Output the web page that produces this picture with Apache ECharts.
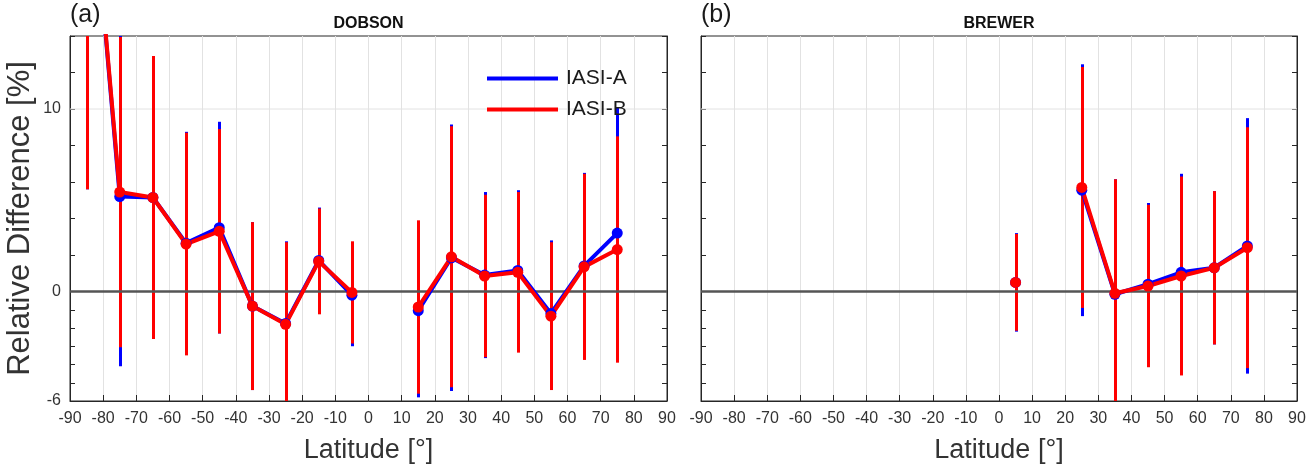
<!DOCTYPE html>
<html><head><meta charset="utf-8">
<script src="https://cdn.jsdelivr.net/npm/echarts@6/dist/echarts.min.js"></script>
<style>html,body{margin:0;padding:0;background:#fff}#c{width:1315px;height:469px}</style>
</head><body><div id="c"></div>
<script>
// ---- data ----
const lat = [-85,-75,-65,-55,-45,-35,-25,-15,-5,5,15,25,35,45,55,65,75];
const dobsonA    = [26, 5.2, 5.15, 2.65, 3.5, -0.8, -1.75, 1.7, -0.2, null, -1.05, 1.85, 0.9, 1.15, -1.2, 1.4, 3.2];
const dobsonErrA = [20.4, 9.3, 7.75, 6.1, 5.8, 4.6, 4.5, 2.9, 2.8, null, 4.75, 7.3, 4.55, 4.4, 4.0, 5.1, 6.9];
const dobsonB    = [26, 5.45, 5.15, 2.6, 3.3, -0.8, -1.8, 1.65, -0.05, null, -0.85, 1.9, 0.85, 1.05, -1.35, 1.35, 2.3];
const dobsonErrB = [20.4, 8.5, 7.75, 6.1, 5.6, 4.6, 4.5, 2.9, 2.8, null, 4.75, 7.15, 4.45, 4.4, 4.05, 5.1, 6.2];
const brewerA    = [null,null,null,null,null,null,null,null,null, 0.5, null, 5.55, -0.15, 0.4, 1.05, 1.3, 2.5];
const brewerErrA = [null,null,null,null,null,null,null,null,null, 2.7, null, 6.9, 6.3, 4.45, 5.4, 4.2, 7.0];
const brewerB    = [null,null,null,null,null,null,null,null,null, 0.5, null, 5.7, -0.1, 0.3, 0.85, 1.3, 2.4];
const brewerErrB = [null,null,null,null,null,null,null,null,null, 2.65, null, 6.6, 6.25, 4.45, 5.45, 4.2, 6.6];
const yLabelValues = [-6, 0, 10];
const yTickValues = [-6,-5,-4,-3,-2,-1,0,2,4,6,8,10,12,14];
const refLines = [0, 10];
const panelTitles = ['DOBSON', 'BREWER'];
const panelTags = ['(a)', '(b)'];

// ---- chart ----
const FONT = '"Liberation Sans", Arial, Helvetica, sans-serif';
const AX = '#262626';
const BLUE = '#0000ff', RED = '#ff0000';
const grids = [
  {left: 70, top: 36, width: 597, height: 368},
  {left: 701, top: 36, width: 596, height: 368}
];

function errRender(color){
  return function(params, api){
    const x = api.value(0), v = api.value(1), e = api.value(2);
    const cs = params.coordSys;
    const p1 = api.coord([x, v - e]);
    const p2 = api.coord([x, v + e]);
    const top = cs.y, bot = cs.y + cs.height;
    const y1 = Math.min(bot, Math.max(top, p1[1]));
    const y2 = Math.min(bot, Math.max(top, p2[1]));
    const px = Math.round(p1[0]) + 0.5;
    return {type: 'line', shape: {x1: px, y1: y1, x2: px, y2: y2}, style: {stroke: color, lineWidth: 3}};
  };
}
function errData(vals, errs){
  const out = [];
  lat.forEach((x, i) => { if (vals[i] != null) out.push([x, vals[i], errs[i]]); });
  return out;
}
function lineData(vals){ return lat.map((x, i) => [x, vals[i] == null ? '-' : vals[i]]); }

const xBottom = gi => ({gridIndex: gi, type: 'value', min: -90, max: 90, interval: 10, position: 'bottom',
     name: 'Latitude [°]', nameLocation: 'middle', nameGap: 36,
     nameTextStyle: {fontSize: 27, color: '#333', fontFamily: FONT},
     axisLine: {show: true, onZero: false, lineStyle: {color: AX}},
     axisTick: {show: true, inside: true, length: 6, lineStyle: {color: AX}},
     axisLabel: {margin: 10, fontSize: 16, color: '#333', fontFamily: FONT},
     splitLine: {show: true, lineStyle: {color: '#e2e2e2'}}});
const yLeft = (gi, lab) => ({gridIndex: gi, type: 'value', min: -6, max: 14, position: 'left',
     name: lab ? 'Relative Difference [%]' : '', nameLocation: 'middle', nameGap: 34,
     nameTextStyle: {fontSize: 31, color: '#333', fontFamily: FONT},
     axisLine: {show: true, onZero: false, lineStyle: {color: AX}},
     axisTick: {show: true, inside: true, length: 5, customValues: yTickValues, lineStyle: {color: AX}},
     axisLabel: {show: lab, margin: 9, fontSize: 16, color: '#333', fontFamily: FONT, customValues: yLabelValues},
     splitLine: {show: false}});
const yRight = gi => ({gridIndex: gi, type: 'value', min: -6, max: 14, position: 'right',
     axisLine: {show: true, onZero: false, lineStyle: {color: AX}},
     axisTick: {show: true, inside: true, length: 5, customValues: yTickValues, lineStyle: {color: AX}},
     axisLabel: {show: false}, splitLine: {show: false}});

function refSeries(xi, yi, val, color, width, z){
  return {type: 'line', xAxisIndex: xi, yAxisIndex: yi, data: [[-90, val], [90, val]], z: z,
    symbol: 'none', silent: true, lineStyle: {color: color, width: width}};
}

function panelSeries(xi, yi, A, eA, B, eB){
  return [
    refSeries(xi, yi, refLines[1], '#e2e2e2', 1, 1),
    {type: 'custom', xAxisIndex: xi, yAxisIndex: yi, renderItem: errRender(BLUE), data: errData(A, eA), z: 2},
    {type: 'custom', xAxisIndex: xi, yAxisIndex: yi, renderItem: errRender(RED), data: errData(B, eB), z: 2},
    refSeries(xi, yi, refLines[0], '#555555', 2.5, 3),
    {name: 'IASI-A', type: 'line', xAxisIndex: xi, yAxisIndex: yi, data: lineData(A), z: 4,
     symbol: 'circle', symbolSize: 11, lineStyle: {color: BLUE, width: 4}, itemStyle: {color: BLUE}},
    {name: 'IASI-B', type: 'line', xAxisIndex: xi, yAxisIndex: yi, data: lineData(B), z: 4,
     symbol: 'circle', symbolSize: 11, lineStyle: {color: RED, width: 4}, itemStyle: {color: RED}}
  ];
}

const titles = [];
grids.forEach((g, i) => {
  titles.push({text: panelTags[i], left: g.left, top: 3, padding: 0,
    textStyle: {fontSize: 25, fontWeight: 'normal', color: '#1a1a1a', fontFamily: FONT}});
  titles.push({text: panelTitles[i], left: g.left + g.width / 2, top: 16, padding: 0, textAlign: 'center',
    textStyle: {fontSize: 16, fontWeight: 'bold', color: '#111', fontFamily: FONT}});
});

const chart = echarts.init(document.getElementById('c'));
chart.setOption({
  animation: false,
  title: titles,
  grid: grids.map(g => Object.assign({show: true, backgroundColor: 'transparent', borderColor: AX, borderWidth: 1}, g)),
  xAxis: [xBottom(0), xBottom(1)],
  yAxis: [yLeft(0, true), yRight(0), yLeft(1, false), yRight(1)],
  legend: {data: ['IASI-A', 'IASI-B'], orient: 'vertical', left: 487, top: 68, z: 10,
    icon: 'rect', itemWidth: 71, itemHeight: 4, itemGap: 10, selectedMode: false,
    textStyle: {fontSize: 21, color: '#1a1a1a', fontFamily: FONT, padding: [0, 0, 0, 3]},
    padding: 0},
  series: panelSeries(0, 0, dobsonA, dobsonErrA, dobsonB, dobsonErrB)
    .concat(panelSeries(1, 2, brewerA, brewerErrA, brewerB, brewerErrB))
});
</script>
</body></html>
